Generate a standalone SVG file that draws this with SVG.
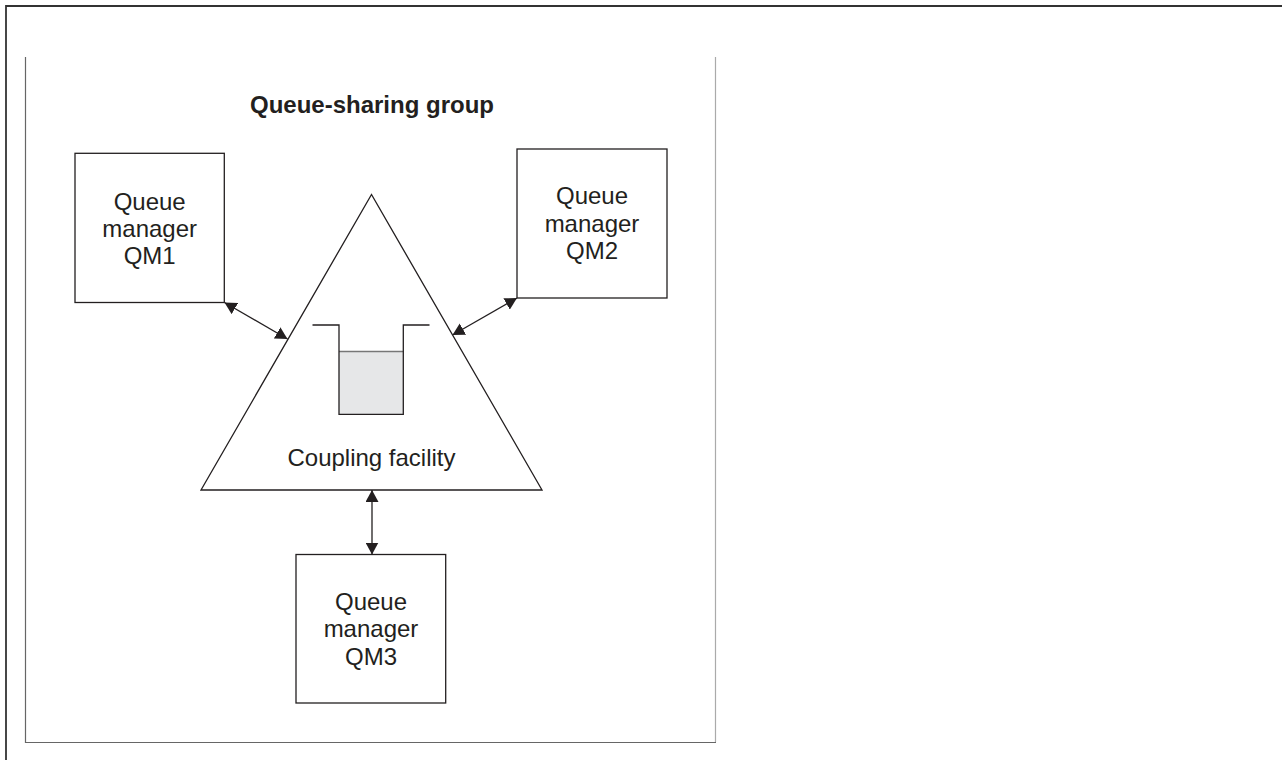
<svg xmlns="http://www.w3.org/2000/svg" width="1282" height="760" viewBox="0 0 1282 760">
<defs>
<style>
.box{fill:#fff;stroke:#231f20;stroke-width:1.3}
.lbl{font-family:"Liberation Sans",Arial,sans-serif;font-size:24px;fill:#231f20;text-anchor:middle}
.ttl{font-family:"Liberation Sans",Arial,sans-serif;font-size:24px;font-weight:bold;fill:#231f20;text-anchor:middle}
.conn{fill:none;stroke:#231f20;stroke-width:1.3;marker-start:url(#ah);marker-end:url(#ah)}
</style>
<marker id="ah" viewBox="0 0 12 13" refX="12" refY="6.5" markerWidth="12" markerHeight="13" markerUnits="userSpaceOnUse" orient="auto-start-reverse">
<path d="M0,0 L12,6.5 L0,13 z" fill="#231f20"/>
</marker>
</defs>
<rect width="1282" height="760" fill="#fff"/>
<path d="M6,760 V6 H1282" fill="none" stroke="#333" stroke-width="1.8"/>
<path d="M25.5,57 V742.5 H716" fill="none" stroke="#666" stroke-width="1.2"/>
<path d="M715.5,57 V742" fill="none" stroke="#aaa" stroke-width="1.2"/>
<text class="ttl" x="372" y="113">Queue-sharing group</text>
<g id="connectors">
<line class="conn" x1="287.5" y1="339" x2="224.5" y2="302.5"/>
<line class="conn" x1="452.5" y1="335" x2="517" y2="298"/>
<line class="conn" x1="372" y1="490" x2="372" y2="554.5"/>
</g>
<g id="cf">
<polygon points="371.5,194.5 201,490 542,490" fill="#fff" stroke="#231f20" stroke-width="1.3"/>
<rect x="339" y="351.5" width="64.3" height="62.8" fill="#e6e7e8"/>
<line x1="339" y1="351.5" x2="403.3" y2="351.5" stroke="#777" stroke-width="1.3"/>
<path d="M312.5,325 H339 V414.3 H403.3 V325 H429.5" fill="none" stroke="#231f20" stroke-width="1.3"/>
<text class="lbl" x="371.5" y="466">Coupling facility</text>
</g>
<g id="qm1">
<rect class="box" x="75" y="153.3" width="149.3" height="149.2"/>
<text class="lbl" x="149.7" y="210">Queue</text>
<text class="lbl" x="149.7" y="237">manager</text>
<text class="lbl" x="149.7" y="264">QM1</text>
</g>
<g id="qm2">
<rect class="box" x="517" y="149" width="150" height="149"/>
<text class="lbl" x="592" y="204">Queue</text>
<text class="lbl" x="592" y="231.5">manager</text>
<text class="lbl" x="592" y="259">QM2</text>
</g>
<g id="qm3">
<rect class="box" x="296" y="554.5" width="149.7" height="148.5"/>
<text class="lbl" x="371" y="610">Queue</text>
<text class="lbl" x="371" y="637">manager</text>
<text class="lbl" x="371" y="665">QM3</text>
</g>
</svg>
